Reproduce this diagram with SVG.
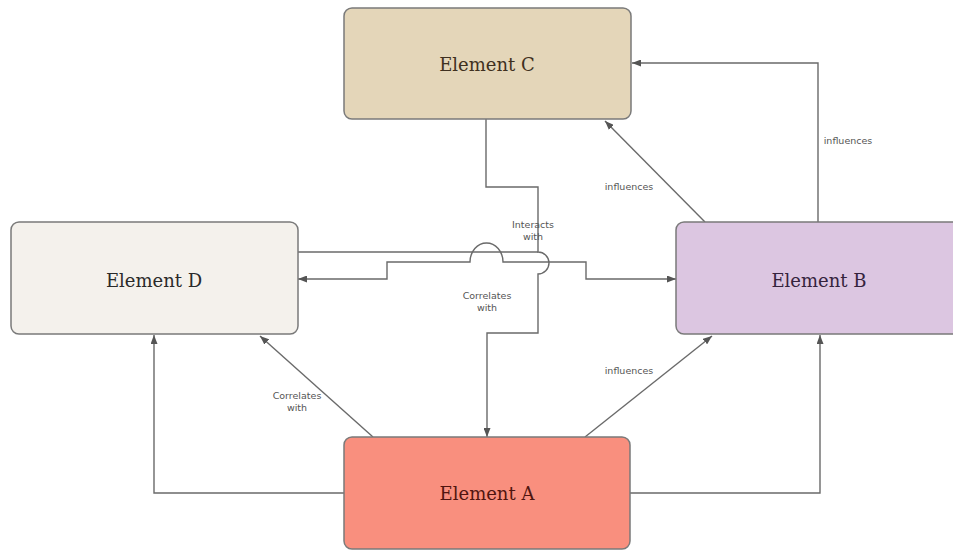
<svg xmlns="http://www.w3.org/2000/svg" width="953" height="550" viewBox="0 0 953 550">
<style>
.box{stroke:#7a7a7a;stroke-width:1.5}
.nt{font-family:"DejaVu Serif","Liberation Serif",serif;font-size:18px;text-anchor:middle;dominant-baseline:central}
.e{fill:none;stroke:#6a6a6a;stroke-width:1.4}
.lb{font-family:"DejaVu Sans","Liberation Sans",sans-serif;font-size:9.5px;fill:#555;text-anchor:middle}
</style>
<defs>
<marker id="ah" markerWidth="9" markerHeight="7" refX="9" refY="3.5" orient="auto" markerUnits="userSpaceOnUse">
<path d="M0,0 L9,3.5 L0,7 z" fill="#555"/>
</marker>
</defs>
<rect width="953" height="550" fill="#fff"/>
<g id="connectors">
<path class="e" d="M344,493 H154 V335" marker-end="url(#ah)"/>
<path class="e" d="M630,493 H820 V335" marker-end="url(#ah)"/>
<path class="e" d="M373,437 L260,336" marker-end="url(#ah)"/>
<path class="e" d="M585,437 L712,336" marker-end="url(#ah)"/>
<path class="e" d="M705,222 L605,121" marker-end="url(#ah)"/>
<path class="e" d="M818,222 V63 H632" marker-end="url(#ah)"/>
<path class="e" d="M486,119 V187 H538 V252 A11,11 0 0 1 538,274 V333 H487 V437" marker-end="url(#ah)"/>
<path class="e" d="M298,252 H538"/>
<path class="e" d="M538,262 H586 V279 H676" marker-end="url(#ah)"/>
<path class="e" d="M538,262 H503 A16.5,19 0 0 0 470,262 H387 V279 H298" marker-end="url(#ah)"/>
<text class="lb" x="297" y="399">Correlates</text>
<text class="lb" x="297" y="411">with</text>
<text class="lb" x="629" y="374">influences</text>
<text class="lb" x="629" y="190">influences</text>
<text class="lb" x="848" y="144">influences</text>
<text class="lb" x="533" y="228">Interacts</text>
<text class="lb" x="533" y="240">with</text>
<text class="lb" x="487" y="299">Correlates</text>
<text class="lb" x="487" y="311">with</text>
</g>
<g id="element-c">
<rect class="box" x="344" y="8" width="287" height="111" rx="8" fill="#e4d6b9"/>
<text class="nt" x="487" y="64" fill="#3f3020">Element C</text>
</g>
<g id="element-d">
<rect class="box" x="11" y="222" width="287" height="112" rx="8" fill="#f4f1ec"/>
<text class="nt" x="154" y="280" fill="#2a2a2a">Element D</text>
</g>
<g id="element-b">
<rect class="box" x="676" y="222" width="288" height="112" rx="8" fill="#dcc6e1"/>
<text class="nt" x="819" y="280" fill="#35233d">Element B</text>
</g>
<g id="element-a">
<rect class="box" x="344" y="437" width="286" height="112" rx="8" fill="#f98f7e"/>
<text class="nt" x="487" y="493" fill="#501510">Element A</text>
</g>
</svg>
